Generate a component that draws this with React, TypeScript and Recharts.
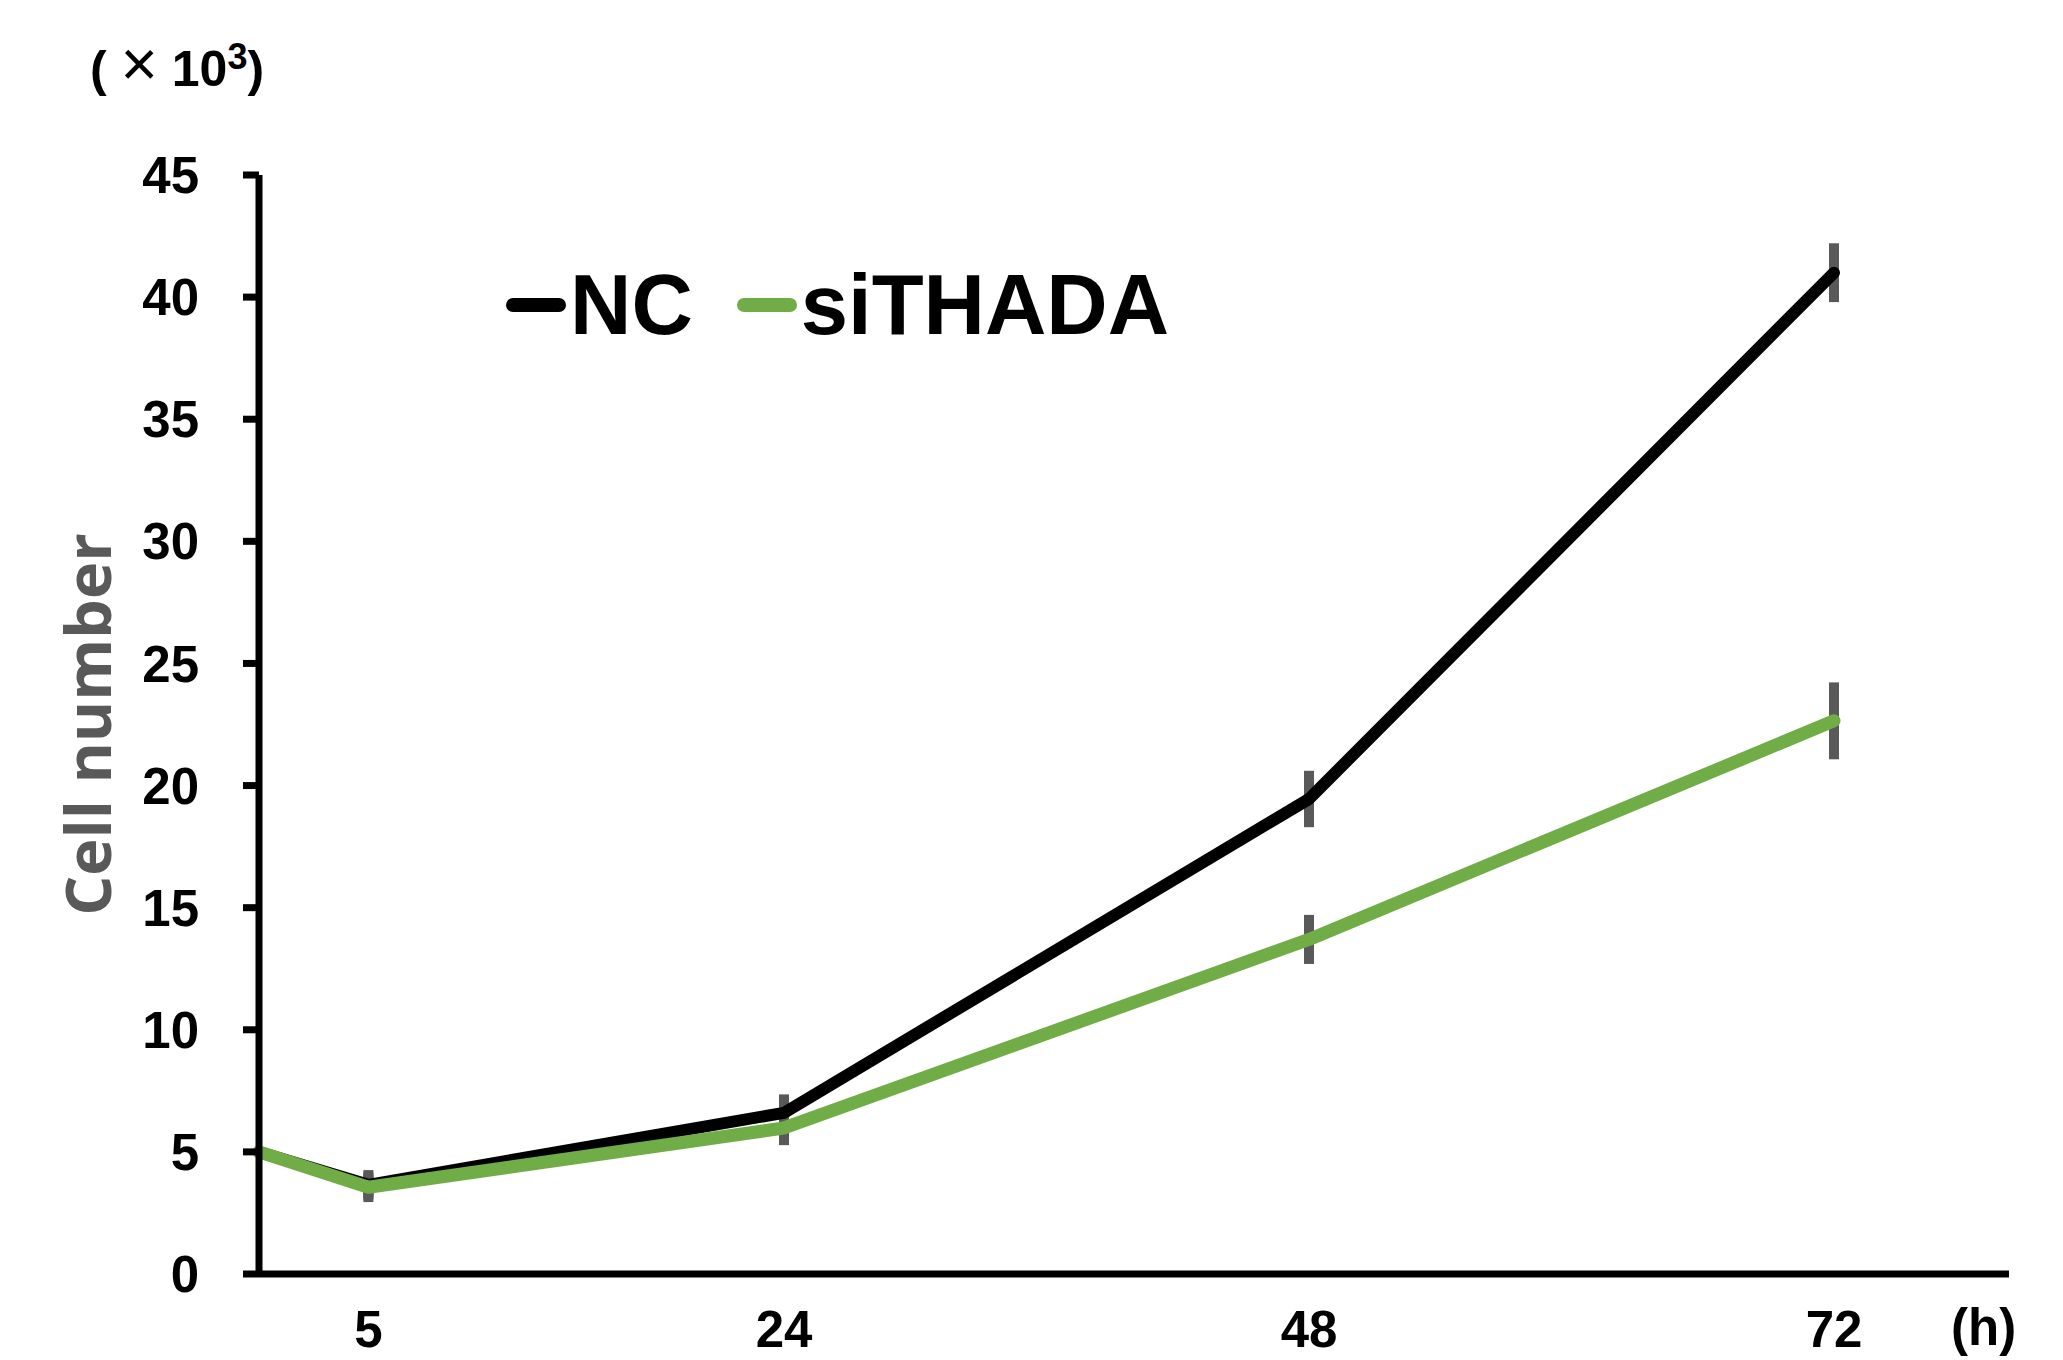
import React from 'react';
import { LineChart, Line, XAxis, YAxis, ErrorBar, Legend } from 'recharts';

// hours after seeding
const hours = [0, 5, 24, 48, 72];
// cell number (x10^3)
const ncValues = [5.0, 3.65, 6.6, 19.45, 41.0];
const ncErrors = [null, 0.4, 0.55, 0.95, 1.0];
const siValues = [5.0, 3.55, 5.98, 13.7, 22.65];
const siErrors = [null, 0.4, 0.5, 0.8, 1.37];

const xTicks = [5, 24, 48, 72];
const yTicks = [0, 5, 10, 15, 20, 25, 30, 35, 40, 45];

const series = [
  { key: 'nc', err: 'ncErr', name: 'NC', color: '#000000', width: 12 },
  { key: 'si', err: 'siErr', name: 'siTHADA', color: '#70AD47', width: 13 },
];

const data = hours.map((t, i) => ({
  t,
  nc: ncValues[i],
  ncErr: ncErrors[i],
  si: siValues[i],
  siErr: siErrors[i],
}));

const FONT = '"Liberation Sans", Arial, sans-serif';

const YLabel = (props: any) => {
  const vb = props.viewBox || { x: 0, y: 175, width: 259, height: 1099 };
  const cy = vb.y + vb.height / 2;
  return (
    <g>
      <text
        x={111}
        y={cy}
        transform={`rotate(-90, 111, ${cy})`}
        textAnchor="middle"
        fill="#595959"
        fontFamily='"Open Sans", "Noto Sans", sans-serif'
        fontWeight={700}
        fontSize={63}
      >
        Cell number
      </text>
      <text x={90} y={86} fontFamily={FONT} fontWeight={700} fontSize={50} fill="#000">
        ( <tspan fontWeight={400} fontSize={64}>×</tspan> 10
        <tspan fontSize={36} dy={-17}>3</tspan>
        <tspan dy={17}>)</tspan>
      </text>
    </g>
  );
};

const XLabel = (props: any) => {
  const vb = props.viewBox || { x: 259, y: 1274, width: 1750, height: 86 };
  return (
    <text
      x={vb.x + vb.width - 58}
      y={vb.y + 71}
      fontFamily={FONT}
      fontWeight={700}
      fontSize={51}
      fill="#000"
    >
      (h)
    </text>
  );
};

const LegendContent = () => (
  <div style={{ display: 'flex', alignItems: 'center', fontFamily: FONT }}>
    {series.map((s, i) => (
      <div key={s.key} style={{ display: 'flex', alignItems: 'center', marginLeft: i === 0 ? 0 : 44 }}>
        <span style={{ display: 'inline-block', width: 60, height: 14, borderRadius: 7, background: s.color, marginRight: 4 }} />
        <span style={{ fontSize: 85, fontWeight: 700, lineHeight: 1, color: '#000' }}>{s.name}</span>
      </div>
    ))}
  </div>
);

const App: React.FC = () => {
  const tickStyle = { fontFamily: FONT, fontWeight: 700, fontSize: 51, fill: '#000' };
  return (
    <div style={{ position: 'absolute', left: 0, top: 0, width: 2063, height: 1360, background: '#fff' }}>
      <LineChart width={2063} height={1360} data={data} margin={{ top: 175, right: 54, bottom: 0, left: 0 }}>
        <XAxis
          dataKey="t"
          type="number"
          domain={[0, 80]}
          ticks={xTicks}
          height={86}
          tickLine={false}
          tickSize={0}
          tickMargin={37}
          axisLine={{ stroke: '#000', strokeWidth: 7 }}
          tick={tickStyle}
          label={XLabel}
        />
        <YAxis
          type="number"
          domain={[0, 45]}
          ticks={yTicks}
          width={259}
          tickSize={16}
          tickMargin={44}
          axisLine={{ stroke: '#000', strokeWidth: 7 }}
          tickLine={{ stroke: '#000', strokeWidth: 7 }}
          tick={tickStyle}
          label={YLabel}
        />
        {/* error bars first, so the lines sit on top of them */}
        {series.map(s => (
          <Line
            key={`${s.key}-err`}
            dataKey={s.key}
            stroke="transparent"
            strokeWidth={0}
            dot={false}
            activeDot={false}
            legendType="none"
            isAnimationActive={false}
          >
            <ErrorBar dataKey={s.err} width={5} strokeWidth={10} stroke="#595959" direction="y" isAnimationActive={false} />
          </Line>
        ))}
        {series.map(s => (
          <Line
            key={s.key}
            dataKey={s.key}
            name={s.name}
            type="linear"
            stroke={s.color}
            strokeWidth={s.width}
            strokeLinecap="round"
            strokeLinejoin="round"
            dot={false}
            activeDot={false}
            isAnimationActive={false}
          />
        ))}
        <Legend
          layout="horizontal"
          verticalAlign="middle"
          align="center"
          content={<LegendContent />}
          wrapperStyle={{ left: 506, top: 262, width: 800 }}
        />
      </LineChart>
    </div>
  );
};

export default App;
